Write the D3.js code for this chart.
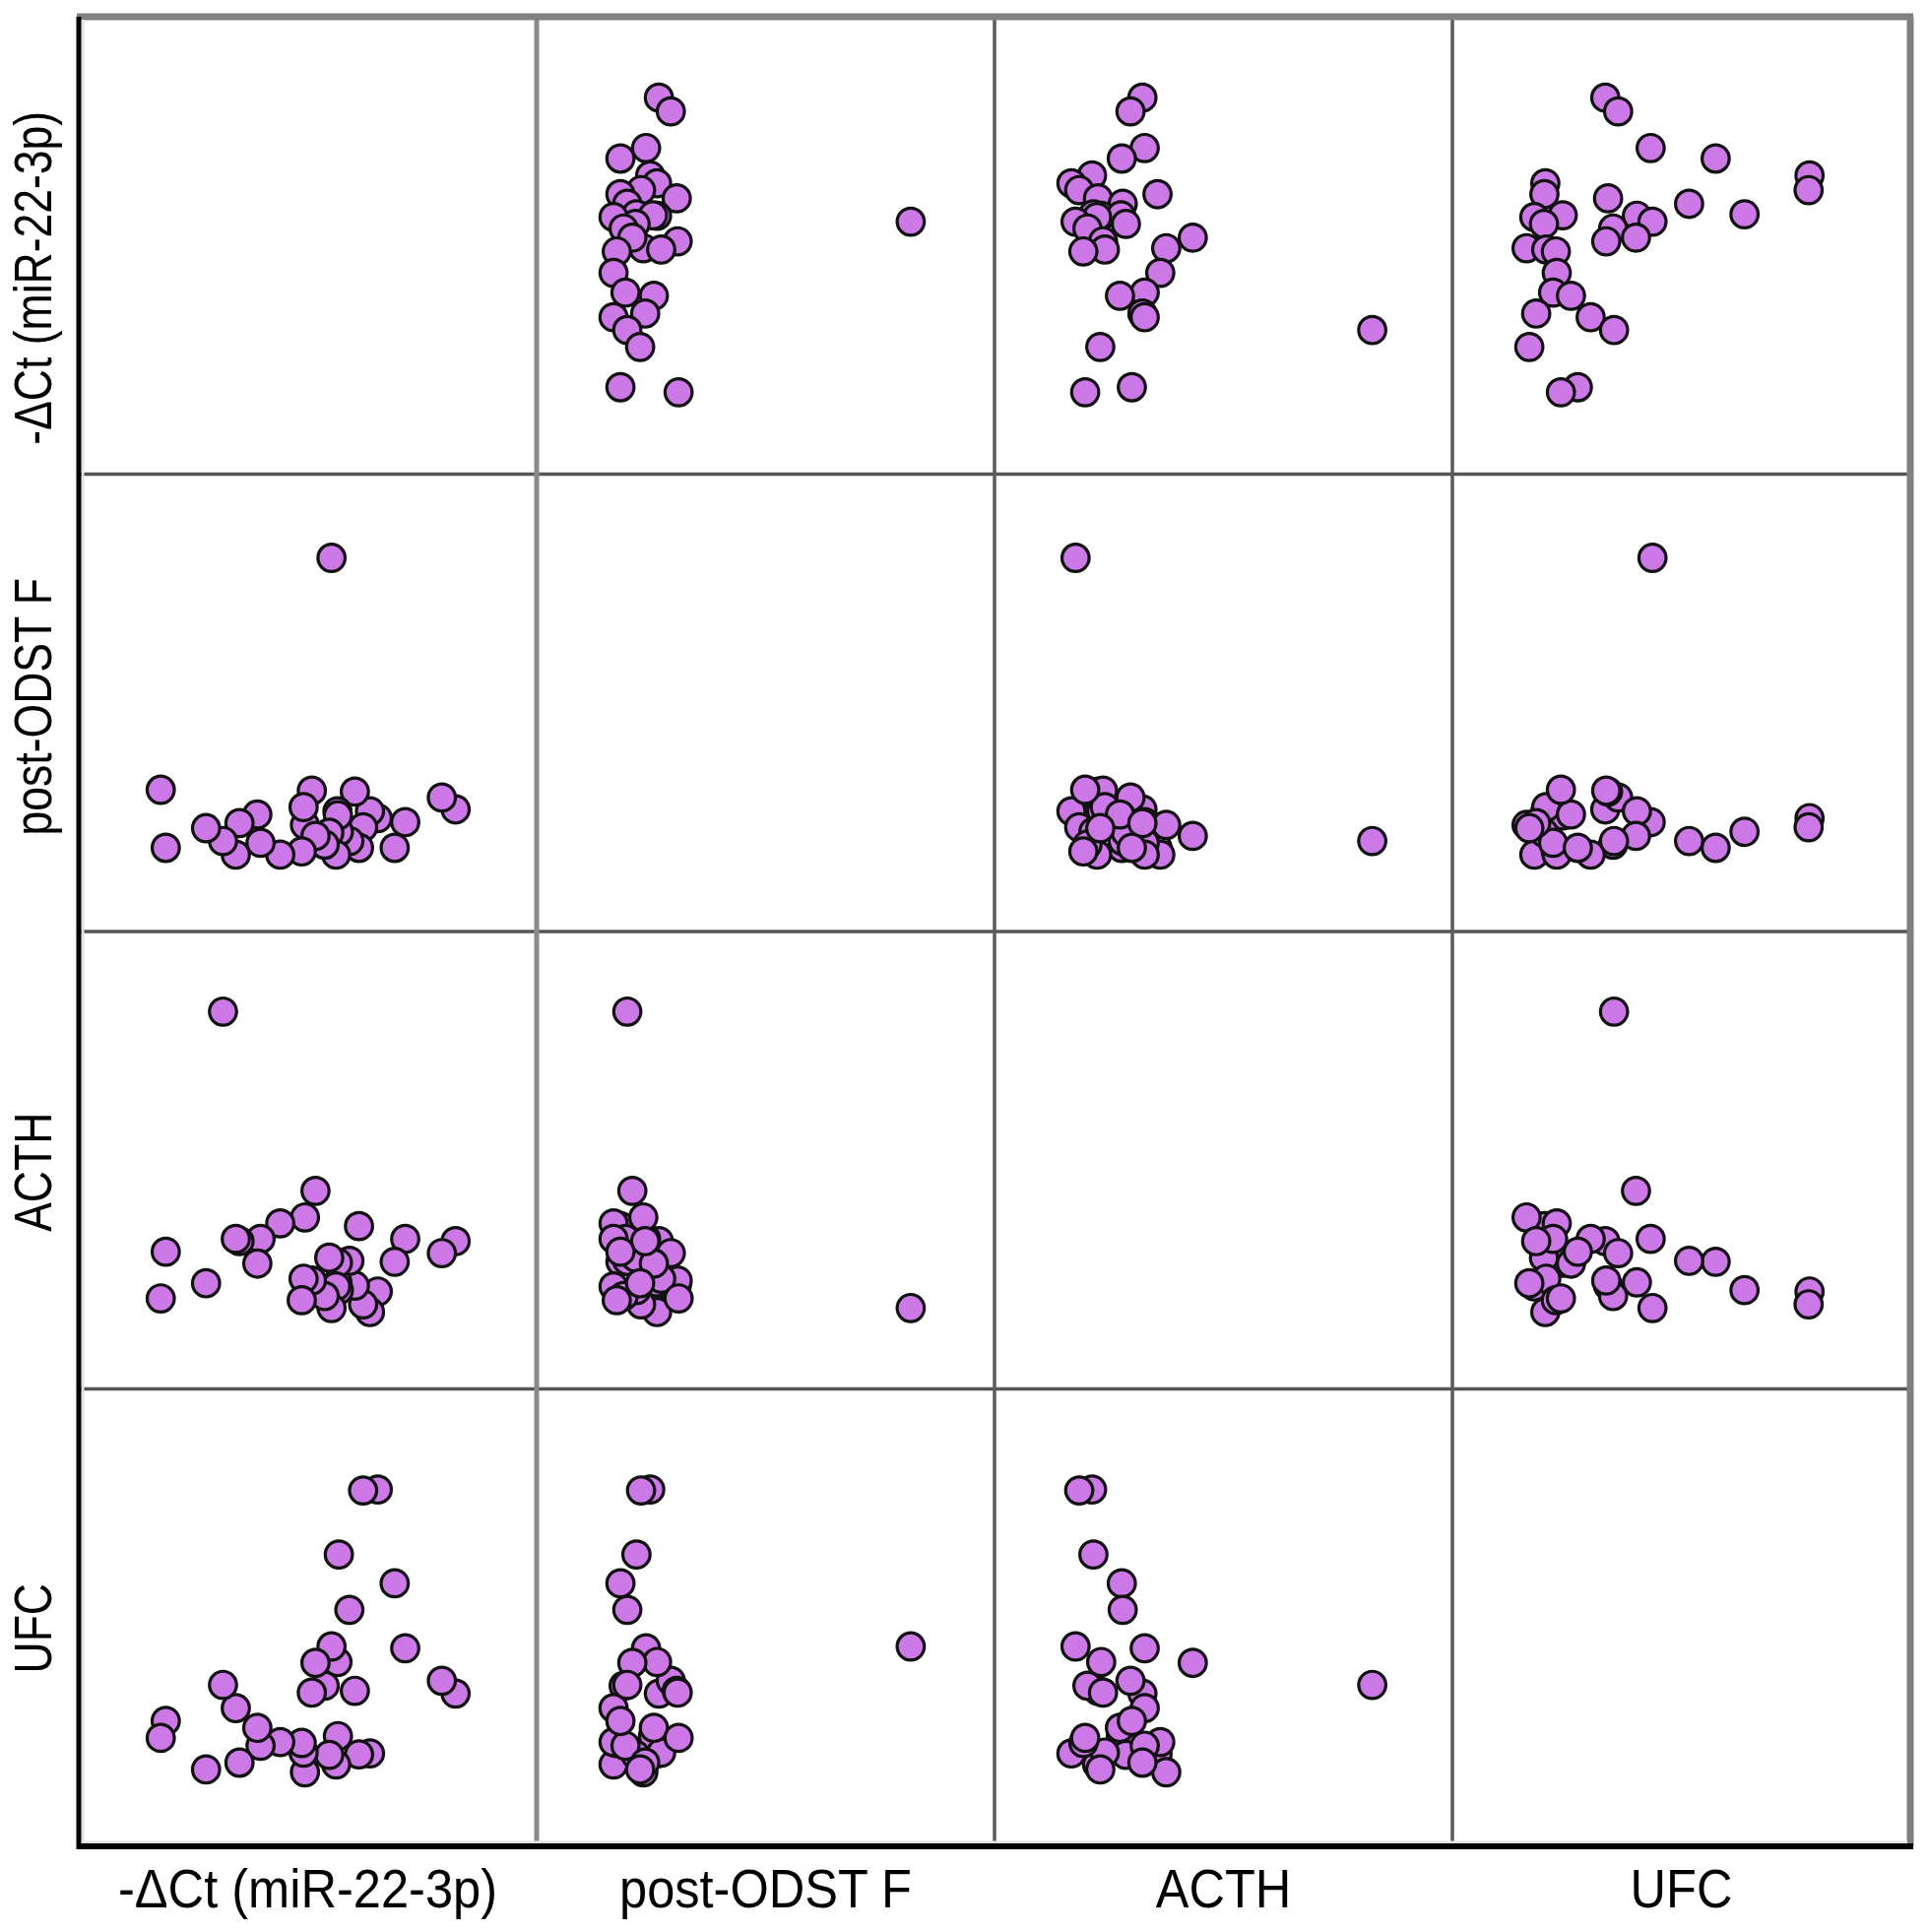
<!DOCTYPE html>
<html>
<head>
<meta charset="utf-8">
<script src="https://cdn.jsdelivr.net/npm/d3@7/dist/d3.min.js"></script>
<style>
  html, body { margin: 0; padding: 0; background: #ffffff; }
  svg { display: block; }
</style>
</head>
<body>
<svg id="chart" width="1957" height="1962"></svg>
<script>
// ---- data (arbitrary 0-100 units) ----
const variables = ["-ΔCt (miR-22-3p)", "post-ODST F", "ACTH", "UFC"];

const dct   = [82.3,79.3,71.3,69.0,65.3,63.6,62.1,61.2,60.3,59.1,56.5,56.8,56.6,56.2,55.2,54.7,53.7,50.9,49.4,51.7,49.1,48.7,44.0,39.7,39.0,35.1,34.3,31.5,27.8,19.0,17.9];
const postF = [26.7,29.3,23.9,18.3,24.8,26.3,22.8,18.3,30.6,19.8,26.3,21.8,25.4,16.8,81.7,21.6,19.0,30.8,23.3,20.9,27.2,17.5,16.8,19.4,25.6,23.7,16.8,19.8,22.6,18.3,31.0];
const acth  = [32.3,29.7,32.8,27.8,21.3,16.8,18.5,35.6,22.6,28.0,23.3,21.6,27.6,22.4,17.7,28.7,20.3,23.7,37.5,43.3,24.1,19.4,36.2,32.8,27.4,32.3,32.8,82.5,23.1,30.0,19.8];
const ufc   = [33.4,36.2,43.3,57.5,78.0,20.3,77.8,20.1,34.0,51.7,40.3,63.8,24.1,17.9,43.7,20.0,35.1,33.6,16.2,40.1,20.5,22.6,22.8,22.0,25.9,18.3,30.2,35.3,16.8,27.4,23.7];
const valueDomain = [0, 100];

const series = [dct, postF, acth, ufc];
const samples = dct.map((_, i) => series.map(s => s[i]));

// ---- layout ----
const frameL = 80, frameR = 1940, frameT = 17, frameB = 1875;
const nVar = variables.length;
const labelShiftY = [33, 4, 12, 11];

const svg = d3.select("#chart");

const cellX = d3.scaleLinear().domain([0, nVar]).range([frameL, frameR]);
const cellY = d3.scaleLinear().domain([0, nVar]).range([frameT, frameB]);

// points
for (let r = 0; r < nVar; r++) {
  for (let c = 0; c < nVar; c++) {
    if (r === c) continue;
    const x = d3.scaleLinear().domain(valueDomain).range([cellX(c), cellX(c + 1)]);
    const y = d3.scaleLinear().domain(valueDomain).range([cellY(r + 1), cellY(r)]);
    svg.append("g")
      .selectAll("circle")
      .data(samples)
      .join("circle")
      .attr("cx", d => x(d[c]))
      .attr("cy", d => y(d[r]))
      .attr("r", 13.8)
      .attr("fill", "#cc78e6")
      .attr("stroke", "#111111")
      .attr("stroke-width", 3.2);
  }
}

// grid lines
const g = svg.append("g");
for (let k = 1; k < nVar; k++) {
  g.append("line")
    .attr("x1", frameL).attr("x2", frameR)
    .attr("y1", cellY(k)).attr("y2", cellY(k))
    .attr("stroke", "#555555").attr("stroke-width", 3.5);
}
for (let k = 1; k < nVar; k++) {
  g.append("line")
    .attr("x1", cellX(k)).attr("x2", cellX(k))
    .attr("y1", frameT).attr("y2", frameB)
    .attr("stroke", k === 1 ? "#8a8a8a" : "#5a5a5a")
    .attr("stroke-width", k === 1 ? 5 : 3.5);
}
// outer frame: top & right grey, left & bottom black
g.append("line").attr("x1", frameL - 2).attr("x2", frameR + 3).attr("y1", frameT).attr("y2", frameT)
  .attr("stroke", "#808080").attr("stroke-width", 7);
g.append("line").attr("x1", frameR).attr("x2", frameR).attr("y1", frameT).attr("y2", frameB)
  .attr("stroke", "#808080").attr("stroke-width", 7);
g.append("line").attr("x1", frameL + 4).attr("x2", frameL + 4).attr("y1", frameT + 3).attr("y2", frameB - 3)
  .attr("stroke", "#e2e2e2").attr("stroke-width", 3);
g.append("line").attr("x1", frameL + 3).attr("x2", frameR - 3).attr("y1", frameB - 4).attr("y2", frameB - 4)
  .attr("stroke", "#e2e2e2").attr("stroke-width", 3);
g.append("line").attr("x1", frameL).attr("x2", frameL).attr("y1", frameT).attr("y2", frameB + 3)
  .attr("stroke", "#000000").attr("stroke-width", 5);
g.append("line").attr("x1", frameL - 2).attr("x2", frameR + 3).attr("y1", frameB).attr("y2", frameB)
  .attr("stroke", "#000000").attr("stroke-width", 6);

// labels
const font = "'Liberation Sans', Arial, Helvetica, sans-serif";
variables.forEach((name, i) => {
  const cx = (cellX(i) + cellX(i + 1)) / 2;
  svg.append("text")
    .attr("transform", `translate(${cx},1937) scale(0.92,1)`)
    .attr("text-anchor", "middle")
    .attr("font-family", font)
    .attr("font-size", 55)
    .attr("fill", "#000")
    .text(name);

  const cy = (cellY(i) + cellY(i + 1)) / 2 + labelShiftY[i];
  svg.append("text")
    .attr("transform", `translate(52,${cy}) rotate(-90) scale(0.84,1)`)
    .attr("text-anchor", "middle")
    .attr("font-family", font)
    .attr("font-size", 53)
    .attr("fill", "#000")
    .text(name);
});
</script>
</body>
</html>
